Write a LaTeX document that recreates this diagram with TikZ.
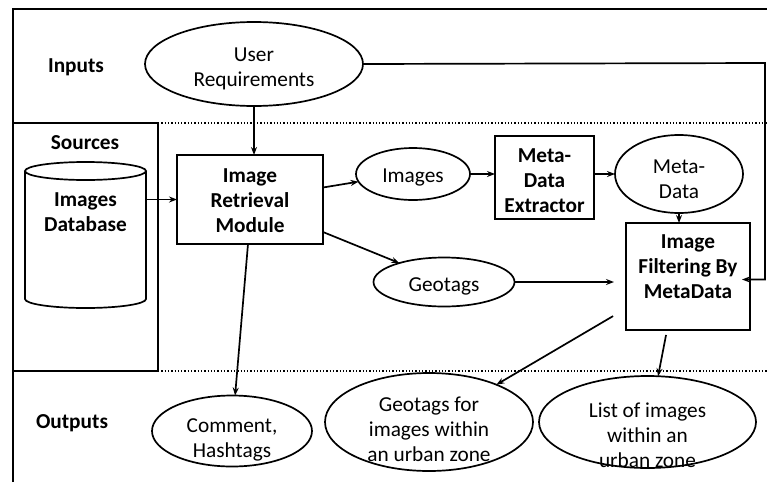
\documentclass[tikz,border=0pt]{standalone}
\usepackage{fontspec}
\setmainfont{Carlito}
\usetikzlibrary{arrows.meta,shapes.geometric}
\newcommand{\boxtext}[2][0pt]{\raisebox{#1}[0pt][0pt]{\begin{tabular}{@{}c@{}}#2\end{tabular}}}

\begin{document}
\begin{tikzpicture}[x=1pt,y=-1pt,line width=1.7pt,
  font=\fontsize{21.3}{25}\selectfont,
  oval/.style={draw,ellipse,inner sep=0pt,outer sep=0pt},
  block/.style={draw,rectangle,inner sep=0pt,outer sep=0pt,font=\fontsize{21.3}{25}\selectfont\bfseries},
  zone/.style={inner sep=0pt,font=\fontsize{21.3}{25}\selectfont\bfseries},
  arr/.style={-{Stealth[length=8pt,width=6pt]}}]
\useasboundingbox (0,0) rectangle (767,482);

% frame and zones
\draw[line width=2pt] (13,482) -- (13,9) -- (767,9);
\draw (13,123) rectangle (158,371);
\draw[dotted,line width=1.3pt] (158,123) -- (767,123);
\draw[dotted,line width=1.3pt] (158,371) -- (767,371);

\node[zone] (inputs) at (76,68) {\boxtext[-5pt]{Inputs}};
\node[zone] (sources) at (85,145) {\boxtext[-5pt]{Sources}};
\node[zone] (outputs) at (72,423.5) {\boxtext[-5pt]{Outputs}};

% database
\node[inner sep=0pt,outer sep=0pt,minimum width=121pt,minimum height=128pt] (db) at (85.5,235) {};
\draw (db.north west) -- (db.south west)
  arc[start angle=180,end angle=360,x radius=60.5pt,y radius=9pt] -- (db.north east);
\draw (db.north) ellipse [x radius=60.5pt,y radius=9pt];
\node[zone] (dbname) at (85.5,214) {\boxtext[-5pt]{Images\\Database}};

% blocks
\node[block,minimum width=146pt,minimum height=89pt] (IRM) at (250,199.5) {\boxtext[-8pt]{Image\\Retrieval\\Module}};
\node[block,minimum width=99pt,minimum height=83pt] (MDE) at (544.5,177.5) {\boxtext[-10pt]{Meta-\\Data\\Extractor}};
\node[block,minimum width=124pt,minimum height=107pt] (IFM) at (688,276.5) {\boxtext[3pt]{Image\\Filtering By\\MetaData}};

% ovals
\node[oval,minimum width=218pt,minimum height=84pt] (ureq) at (254,64) {\boxtext[-10pt]{User\\Requirements}};
\node[oval,minimum width=114pt,minimum height=52pt] (img) at (413,174) {\boxtext[-9pt]{Images}};
\node[oval,minimum width=128pt,minimum height=78pt] (meta) at (679,174) {\boxtext[-12pt]{Meta-\\Data}};
\node[oval,minimum width=141pt,minimum height=49pt] (geo) at (444,282) {\boxtext[-10pt]{Geotags}};
\node[oval,minimum width=160pt,minimum height=71pt] (comment) at (232,431) {\boxtext[-14pt]{Comment,\\Hashtags}};
\node[oval,minimum width=208pt,minimum height=98pt] (geofor) at (429,422) {\boxtext[-15pt]{Geotags for\\images within\\an urban zone}};
\node[oval,minimum width=217pt,minimum height=92pt] (list) at (647.5,422) {\boxtext[-21pt]{List of images\\within an\\urban zone}};

% connectors
\coordinate (turn) at (765,63);
\draw[arr] (ureq.south) -- (ureq.south |- IRM.north);
\draw[arr] (db.east |- IRM.west) -- (IRM.west);
\draw[arr] ([yshift=12pt]IRM.east) -- (img.188);
\draw[arr] ([yshift=12pt]IRM.south east) -- (geo.157);
\draw[arr] ([xshift=-2pt]IRM.south) -- (comment.85);
\draw[arr] (img.east) -- (img.east -| MDE.west);
\draw[arr] (MDE.east |- meta.west) -- (meta.west);
\draw[arr] (meta.south) -- (meta.south |- IFM.north);
\draw[arr,shorten >=12pt] (geo.east) -- (geo.east -| IFM.west);
\draw[arr,shorten >=-8pt] (ureq.east) -- (turn) |- ([yshift=-3pt]IFM.east);
\draw[arr,shorten <=15pt] ([yshift=-32pt]IFM.west) -- (geofor.29);
\draw[arr,shorten <=5pt] ([xshift=-21pt]IFM.south) -- (list.77);
\end{tikzpicture}
\end{document}
